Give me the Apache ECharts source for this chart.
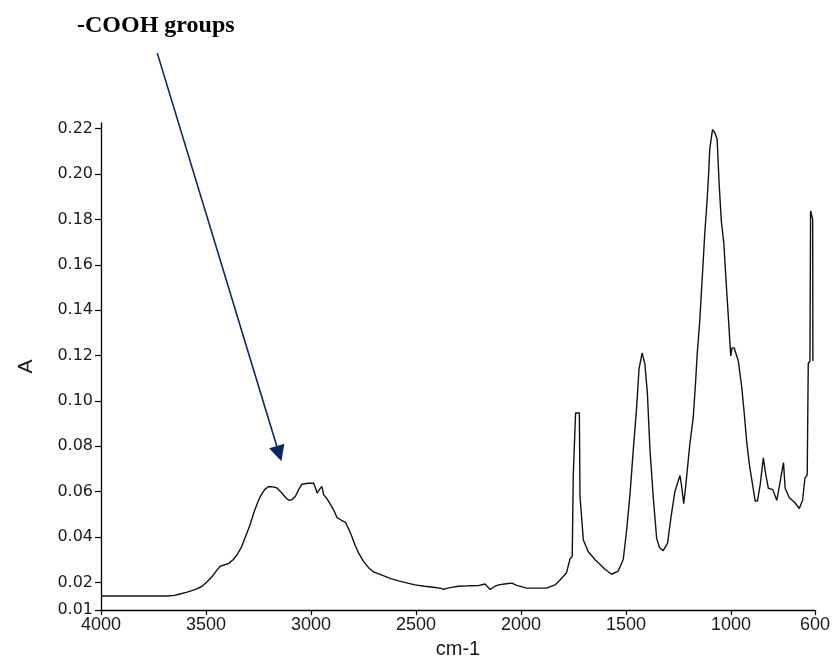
<!DOCTYPE html>
<html>
<head>
<meta charset="utf-8">
<script src="https://cdn.jsdelivr.net/npm/echarts@6/dist/echarts.min.js"></script>
<style>
html,body{margin:0;padding:0;background:#fff;}
#chart{width:833px;height:664px;}
</style>
</head>
<body>
<div id="chart"></div>
<script>
// Wavenumber (cm-1) and absorbance
const wavenumbers = [4000,3800,3686,3650,3629,3590,3550,3520,3496,3470,3450,3431,3410,3391,3370,3352,3330,3312,3290,3272,3255,3241,3220,3201,3180,3162,3140,3120,3106,3090,3074,3058,3043,3015,2987,2978,2971,2960,2948,2940,2925,2908,2890,2876,2855,2836,2820,2805,2790,2773,2750,2726,2700,2662,2620,2583,2540,2504,2460,2417,2380,2369,2355,2330,2298,2250,2203,2171,2160,2147,2130,2107,2070,2044,2020,2012,1990,1973,1930,1878,1838,1814,1783,1767,1756,1751,1740,1722,1719,1703,1680,1648,1600,1569,1537,1513,1497,1481,1465,1449,1438,1423,1410,1398,1386,1370,1354,1340,1323,1302,1286,1267,1243,1236,1225,1215,1196,1180,1169,1161,1149,1136,1125,1114,1106,1101,1088,1077,1066,1057,1046,1034,1022,1014,1006,1001,995,985,965,949,937,925,912,897,885,874,861,846,834,822,801,782,774,750,742,722,695,675,659,648,637,632,624,621,615,611,610];
const absorbance = [0.0140,0.0140,0.0140,0.0143,0.0148,0.0157,0.0169,0.0182,0.0202,0.0227,0.0252,0.0272,0.0278,0.0284,0.0301,0.0322,0.0358,0.0401,0.0454,0.0508,0.0550,0.0580,0.0610,0.0623,0.0621,0.0616,0.0595,0.0573,0.0562,0.0565,0.0580,0.0610,0.0633,0.0637,0.0637,0.0615,0.0594,0.0610,0.0623,0.0587,0.0570,0.0545,0.0515,0.0486,0.0474,0.0465,0.0434,0.0401,0.0364,0.0329,0.0293,0.0265,0.0245,0.0232,0.0217,0.0207,0.0197,0.0189,0.0183,0.0179,0.0174,0.0169,0.0174,0.0178,0.0183,0.0185,0.0186,0.0193,0.0182,0.0169,0.0180,0.0189,0.0194,0.0197,0.0187,0.0183,0.0179,0.0175,0.0175,0.0175,0.0189,0.0211,0.0243,0.0303,0.0315,0.0676,0.0947,0.0947,0.0580,0.0387,0.0336,0.0301,0.0258,0.0236,0.0250,0.0301,0.0430,0.0587,0.0788,0.0975,0.1141,0.1212,0.1162,0.1033,0.0788,0.0573,0.0394,0.0353,0.0340,0.0373,0.0486,0.0601,0.0671,0.0630,0.0547,0.0630,0.0809,0.0925,0.1076,0.1205,0.1349,0.1556,0.1736,0.1880,0.2009,0.2112,0.2196,0.2182,0.2153,0.1966,0.1793,0.1693,0.1507,0.1392,0.1270,0.1198,0.1234,0.1234,0.1176,0.1062,0.0947,0.0817,0.0717,0.0630,0.0559,0.0559,0.0630,0.0749,0.0674,0.0615,0.0609,0.0562,0.0601,0.0728,0.0615,0.0573,0.0551,0.0526,0.0562,0.0659,0.0674,0.1165,0.1176,0.1837,0.1837,0.1801,0.1176];

const xTicks = [4000,3500,3000,2500,2000,1500,1000,600];
const yMin = 0.0078;   // axis bottom, labelled "0.01" in the reference
const yMax = 0.2225;
const yTicks = [yMin,0.02,0.04,0.06,0.08,0.10,0.12,0.14,0.16,0.18,0.20,0.22];

const annotationText = '-COOH groups';
const arrowStart = [3732, 0.2533];
const arrowTip = [3141, 0.0734];

const chart = echarts.init(document.getElementById('chart'), null, {renderer:'canvas'});
const data = wavenumbers.map((w,i)=>[w, absorbance[i]]);

chart.setOption({
  animation:false,
  backgroundColor:'#fff',
  title:{
    text: annotationText,
    left: 77, top: 14, padding: 0,
    textStyle:{fontFamily:'Liberation Serif', fontWeight:'bold', fontSize:24, color:'#000'}
  },
  grid:{left:101, right:16, top:123, bottom:42, containLabel:false},
  xAxis:{
    type:'value', min:600, max:4000, inverse:true,
    name:'cm-1', nameLocation:'middle', nameGap:22,
    nameTextStyle:{fontFamily:'Liberation Sans', fontSize:20, color:'#1a1a1a'},
    axisLine:{show:true, onZero:false, lineStyle:{color:'#000', width:1.3}},
    axisTick:{show:true, length:5, customValues:xTicks, lineStyle:{color:'#000', width:1.2}},
    axisLabel:{customValues:xTicks, margin:6, fontFamily:'Liberation Sans', fontSize:18, color:'#1a1a1a',
      formatter:(v)=>String(Math.round(v))},
    splitLine:{show:false}
  },
  yAxis:{
    type:'value', min:yMin, max:yMax,
    name:'A', nameLocation:'middle', nameGap:64, nameRotate:90,
    nameTextStyle:{fontFamily:'Liberation Sans', fontSize:21, color:'#1a1a1a'},
    axisLine:{show:true, onZero:false, lineStyle:{color:'#000', width:1.3}},
    axisTick:{show:true, length:6, customValues:yTicks, lineStyle:{color:'#000', width:1.2}},
    axisLabel:{customValues:yTicks, margin:8, fontFamily:'DejaVu Sans', fontSize:16, color:'#1a1a1a',
      formatter:(v)=>v.toFixed(2)},
    splitLine:{show:false}
  },
  series:[{
    type:'line', data:data, symbol:'none', clip:true,
    lineStyle:{color:'#111', width:1.4}
  }]
});

const p0 = chart.convertToPixel({gridIndex:0}, arrowStart);
const p1 = chart.convertToPixel({gridIndex:0}, arrowTip);
const dx = p1[0]-p0[0], dy = p1[1]-p0[1];
const len = Math.sqrt(dx*dx+dy*dy);
const ux = dx/len, uy = dy/len;
const headLen = 16, headHalf = 8;
const bx = p1[0]-ux*headLen, by = p1[1]-uy*headLen;
const navy = '#0b2566';
chart.setOption({
  graphic:[
    {type:'line', shape:{x1:p0[0], y1:p0[1], x2:bx, y2:by}, style:{stroke:navy, lineWidth:1.6}, z:100},
    {type:'polygon', shape:{points:[[p1[0],p1[1]],[bx-uy*headHalf, by+ux*headHalf],[bx+uy*headHalf, by-ux*headHalf]]}, style:{fill:navy}, z:100}
  ]
});
</script>
</body>
</html>
